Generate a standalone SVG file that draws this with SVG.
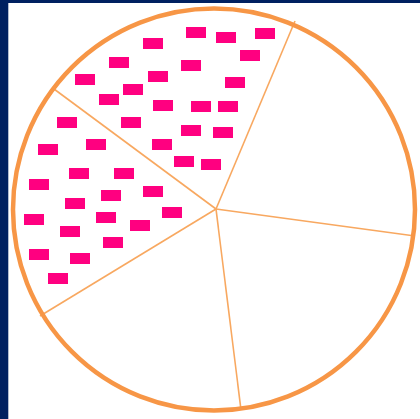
<svg xmlns="http://www.w3.org/2000/svg" width="420" height="419" viewBox="0 0 420 419">
  <style>
    .rim { fill: none; stroke: #F79646; stroke-width: 4.5; }
    .spoke { stroke: #F8A860; stroke-width: 1.6; fill: none; }
    .r { fill: #FF0080; }
  </style>
  <defs>
    <rect id="b" width="20" height="11" class="r"/>
  </defs>
  <rect x="0" y="0" width="420" height="419" fill="#FFFFFF"/>
  <rect x="0" y="0" width="420" height="3" fill="#002060"/>
  <rect x="0" y="0" width="8.3" height="419" fill="#002060"/>

  <g id="connectors">
    <line class="spoke" x1="216" y1="209" x2="295" y2="21"/>
    <line class="spoke" x1="216" y1="209" x2="415" y2="236"/>
    <line class="spoke" x1="216" y1="209" x2="241" y2="410"/>
    <line class="spoke" x1="216" y1="209" x2="40" y2="316"/>
    <line class="spoke" x1="216" y1="209" x2="54" y2="89"/>
  </g>

  <g id="circle">
    <circle class="rim" cx="214" cy="209.5" r="201"/>
  </g>

  <g id="sector-top">
    <use href="#b" x="186" y="27"/>
    <use href="#b" x="216" y="32"/>
    <use href="#b" x="255" y="28"/>
    <use href="#b" x="143" y="38"/>
    <use href="#b" x="240" y="50"/>
    <use href="#b" x="109" y="57"/>
    <use href="#b" x="181" y="60"/>
    <use href="#b" x="148" y="71"/>
    <use href="#b" x="225" y="77"/>
    <use href="#b" x="75" y="74"/>
    <use href="#b" x="123" y="84"/>
    <use href="#b" x="99" y="94"/>
    <use href="#b" x="153" y="100"/>
    <use href="#b" x="191" y="101"/>
    <use href="#b" x="218" y="101"/>
    <use href="#b" x="121" y="117"/>
    <use href="#b" x="181" y="125"/>
    <use href="#b" x="213" y="127"/>
    <use href="#b" x="152" y="139"/>
    <use href="#b" x="174" y="156"/>
    <use href="#b" x="201" y="159"/>
  </g>

  <g id="sector-left">
    <use href="#b" x="57" y="117"/>
    <use href="#b" x="38" y="144"/>
    <use href="#b" x="86" y="139"/>
    <use href="#b" x="69" y="168"/>
    <use href="#b" x="114" y="168"/>
    <use href="#b" x="29" y="179"/>
    <use href="#b" x="143" y="186"/>
    <use href="#b" x="101" y="190"/>
    <use href="#b" x="65" y="198"/>
    <use href="#b" x="162" y="207"/>
    <use href="#b" x="24" y="214"/>
    <use href="#b" x="96" y="212"/>
    <use href="#b" x="60" y="226"/>
    <use href="#b" x="130" y="220"/>
    <use href="#b" x="103" y="237"/>
    <use href="#b" x="29" y="249"/>
    <use href="#b" x="70" y="253"/>
    <use href="#b" x="48" y="273"/>
  </g>
</svg>
